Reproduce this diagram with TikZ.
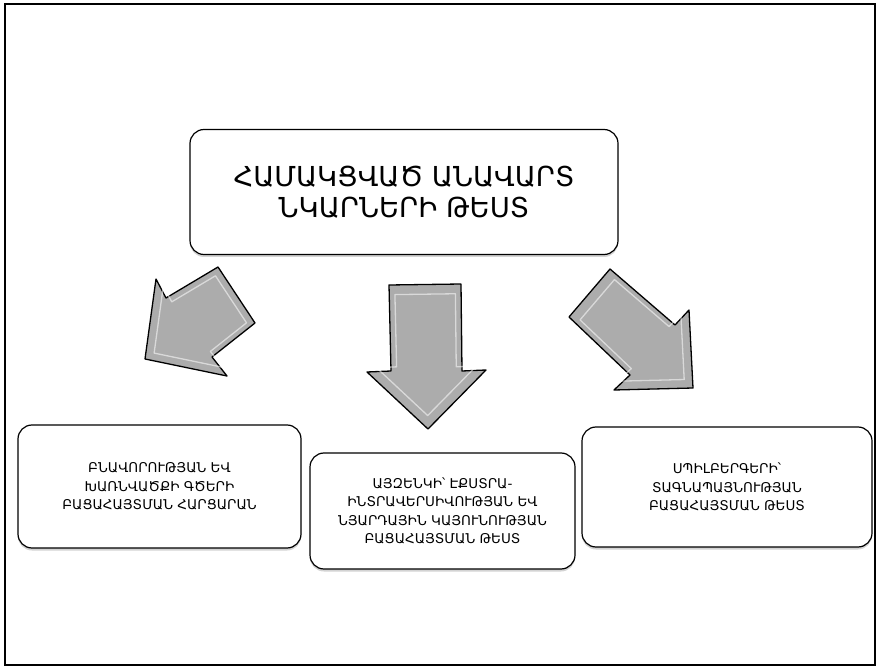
\documentclass[tikz,border=0pt]{standalone}
\usepackage{fontspec}
\setmainfont{DejaVu Sans}
\usepackage{xcolor}
\usetikzlibrary{shadows}
\definecolor{arrowgray}{RGB}{172,172,172}

\begin{document}
\begin{tikzpicture}[x=1pt, y=-1pt, every node/.style={font=\fontsize{13.5}{18.5}\selectfont},
  testbox/.style={draw, line width=1.2pt, rounded corners=14pt, align=center, fill=white, drop shadow={shadow xshift=0pt, shadow yshift=-2.5pt, opacity=.35}},
  blockarrow/.style={draw, line width=1.3pt, fill=arrowgray, line join=round},
  bevel/.style={white, line width=1.3pt, opacity=.55, line join=round}]
  \useasboundingbox (0,0) rectangle (878,668);
  \draw[line width=2.6pt] (5,4) rectangle (875,665);

  \node[testbox, minimum width=428pt, minimum height=125pt, font=\fontsize{27.5}{31}\selectfont] (main) at (404,192) {ՀԱՄԱԿՑՎԱԾ ԱՆԱՎԱՐՏ\\ՆԿԱՐՆԵՐԻ ԹԵՍՏ};
  \node[testbox, minimum width=283pt, minimum height=123pt] (charq) at (159.5,486.5) {ԲՆԱՎՈՐՈՒԹՅԱՆ ԵՎ\\ԽԱՌՆՎԱԾՔԻ ԳԾԵՐԻ\\ԲԱՑԱՀԱՅՏՄԱՆ ՀԱՐՑԱՐԱՆ};
  \node[testbox, minimum width=265pt, minimum height=116pt] (eysenck) at (442.5,511) {ԱՅԶԵՆԿԻ՝ ԷՔՍՏՐԱ-\\ԻՆՏՐԱՎԵՐՍԻՎՈՒԹՅԱՆ ԵՎ\\ՆՅԱՐԴԱՅԻՆ ԿԱՅՈՒՆՈՒԹՅԱՆ\\ԲԱՑԱՀԱՅՏՄԱՆ ԹԵՍՏ};
  \node[testbox, minimum width=290pt, minimum height=120pt] (spielb) at (727,487) {ՍՊԻԼԲԵՐԳԵՐԻ՝\\ՏԱԳՆԱՊԱՅՆՈՒԹՅԱՆ\\ԲԱՑԱՀԱՅՏՄԱՆ ԹԵՍՏ};

  \draw[blockarrow] (145,359) -- (156,279) -- (166,298) -- (218,267) -- (255,323) -- (212,357) -- (227,376) -- cycle;
  \begin{scope}[shift={(202,322)}, scale=.84, shift={(-202,-322)}]
    \draw[bevel] (145,359) -- (156,279) -- (166,298) -- (218,267) -- (255,323) -- (212,357) -- (227,376) -- cycle;
  \end{scope}

  \draw[blockarrow] (389,285) -- (461,284) -- (462,371) -- (486,370) -- (428,429) -- (367,372) -- (391,371) -- cycle;
  \begin{scope}[shift={(426,345)}, scale=.84, shift={(-426,-345)}]
    \draw[bevel] (389,285) -- (461,284) -- (462,371) -- (486,370) -- (428,429) -- (367,372) -- (391,371) -- cycle;
  \end{scope}

  \draw[blockarrow] (610,269) -- (675,325) -- (689,310) -- (693,388) -- (614,390) -- (630,375) -- (569,317) -- cycle;
  \begin{scope}[shift={(638,335)}, scale=.84, shift={(-638,-335)}]
    \draw[bevel] (610,269) -- (675,325) -- (689,310) -- (693,388) -- (614,390) -- (630,375) -- (569,317) -- cycle;
  \end{scope}
\end{tikzpicture}
\end{document}
